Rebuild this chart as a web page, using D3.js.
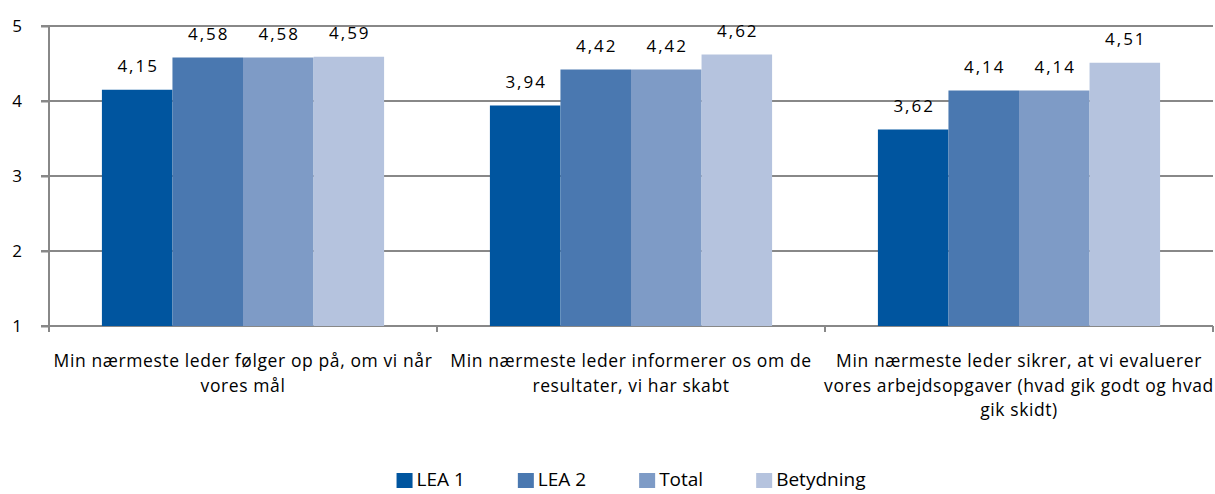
<!DOCTYPE html>
<html>
<head>
<meta charset="utf-8">
<script src="https://cdn.jsdelivr.net/npm/d3@7"></script>
<style>
  body { margin: 0; background: #fff; }
  text { font-family: "Open Sans", sans-serif; fill: #000; }
</style>
</head>
<body>
<div id="chart"></div>
<script>
// data
const categories = [
    "Min nærmeste leder følger op på, om vi når vores mål",
    "Min nærmeste leder informerer os om de resultater, vi har skabt",
    "Min nærmeste leder sikrer, at vi evaluerer vores arbejdsopgaver (hvad gik godt og hvad gik skidt)"
];
// line breaks as in the picture
const categoryLines = [
    ["Min nærmeste leder følger op på, om vi når", "vores mål"],
    ["Min nærmeste leder informerer os om de", "resultater, vi har skabt"],
    ["Min nærmeste leder sikrer, at vi evaluerer", "vores arbejdsopgaver (hvad gik godt og hvad", "gik skidt)"]
];
const seriesNames = ["LEA 1", "LEA 2", "Total", "Betydning"];
const lea1 = [4.15, 3.94, 3.62];
const lea2 = [4.58, 4.42, 4.14];
const total = [4.58, 4.42, 4.14];
const betydning = [4.59, 4.62, 4.51];
const yTicks = [1, 2, 3, 4, 5];
const colors = ["#00559f", "#4a78b0", "#7e9bc6", "#b5c3de"];

const width = 1215, height = 494;
const margin = {left: 49, right: 2, top: 26, bottom: 168};

const svg = d3.select("#chart").append("svg")
    .attr("width", width)
    .attr("height", height);

const x0 = d3.scaleBand()
    .domain(d3.range(categories.length))
    .range([margin.left, width - margin.right])
    .padding(0);

const x1 = d3.scaleBand()
    .domain(d3.range(seriesNames.length))
    .range([0, x0.bandwidth()])
    .paddingInner(0)
    .paddingOuter(0.75);

const y = d3.scaleLinear()
    .domain([1, 5])
    .range([height - margin.bottom, margin.top]);

const allSeries = [lea1, lea2, total, betydning];
const fmt = v => d3.format(".2f")(v).replace(".", ",");

// gridlines
svg.append("g")
    .selectAll("line")
    .data(yTicks)
    .enter().append("line")
        .attr("x1", margin.left - 8)
        .attr("x2", width - margin.right)
        .attr("y1", d => y(d))
        .attr("y2", d => y(d))
        .attr("stroke", "#888")
        .attr("stroke-width", 2);

// bars
const groups = svg.append("g")
    .selectAll("g")
    .data(categories)
    .enter().append("g")
        .attr("transform", (d, i) => "translate(" + x0(i) + ",0)");

groups.selectAll("rect")
    .data((d, i) => allSeries.map((s, k) => ({k: k, v: s[i]})))
    .enter().append("rect")
        .attr("x", d => x1(d.k))
        .attr("width", x1.bandwidth())
        .attr("y", d => y(d.v))
        .attr("height", d => y(1) - y(d.v))
        .attr("fill", d => colors[d.k]);

groups.selectAll(".val")
    .data((d, i) => allSeries.map((s, k) => ({k: k, v: s[i]})))
    .enter().append("text")
        .attr("class", "val")
        .attr("x", d => x1(d.k) + x1.bandwidth() / 2 + 1)
        .attr("y", d => y(d.v) - 18)
        .attr("text-anchor", "middle")
        .style("font-size", "17px")
        .style("letter-spacing", "2px")
        .text(d => fmt(d.v));

// y axis
const yAxis = svg.append("g")
    .attr("transform", "translate(" + margin.left + ",0)")
    .call(d3.axisLeft(y).tickValues(yTicks).tickSize(8).tickPadding(19).tickFormat(d3.format("d")));
yAxis.select(".domain").attr("stroke", "#888").attr("stroke-width", 2)
    .attr("d", "M0," + margin.top + "V" + (y(1) + 5));
yAxis.selectAll(".tick line").attr("stroke", "#888").attr("stroke-width", 2);
yAxis.selectAll(".tick text").style("font-size", "17px").attr("font-family", null).attr("fill", null);

// x axis ticks at category boundaries
const bounds = d3.range(categories.length + 1).map(i => margin.left + i * x0.step());
svg.append("g")
    .selectAll("line")
    .data(bounds)
    .enter().append("line")
        .attr("x1", d => d).attr("x2", d => d)
        .attr("y1", y(1)).attr("y2", y(1) + 6)
        .attr("stroke", "#888")
        .attr("stroke-width", 2);

// category labels
const cat = svg.append("g")
    .selectAll("text")
    .data(categoryLines)
    .enter().append("text")
        .attr("x", (d, i) => x0(i) + x0.bandwidth() / 2)
        .attr("y", y(1) + 41)
        .attr("text-anchor", "middle")
        .style("font-size", "17.5px")
        .style("letter-spacing", "0.6px");
cat.selectAll("tspan")
    .data(d => d)
    .enter().append("tspan")
        .attr("x", function() { return d3.select(this.parentNode).attr("x"); })
        .attr("dy", (d, i) => i === 0 ? 0 : 24.5)
        .text(d => d);

// legend
const legend = svg.append("g").attr("id", "legend");
const items = legend.selectAll("g")
    .data(seriesNames)
    .enter().append("g");
items.append("rect")
    .attr("width", 16).attr("height", 15)
    .attr("y", -13)
    .attr("fill", (d, i) => colors[i]);
items.append("text")
    .attr("x", 20)
    .attr("y", 0)
    .style("font-size", "19px")
    .text(d => d);
const gap = 53;
let pos = 0;
items.each(function() {
    const w = this.getBBox().width;
    d3.select(this).attr("transform", "translate(" + pos + ",0)");
    pos += w + gap;
});
const legendWidth = pos - gap;
legend.attr("transform", "translate(" + ((margin.left + width - margin.right) / 2 - legendWidth / 2) + ",486)");
</script>
</body>
</html>
